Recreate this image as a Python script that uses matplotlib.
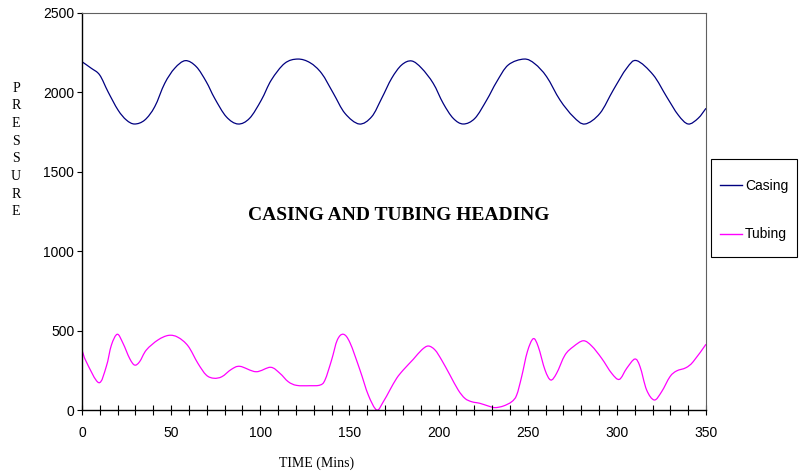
import numpy as np
import matplotlib
matplotlib.use("Agg")
import matplotlib.pyplot as plt
from matplotlib.path import Path
from matplotlib.patches import PathPatch, Rectangle
from matplotlib.lines import Line2D

# Casing pressure readings
casing_time = [0, 5.2, 9.9, 14.6, 20.2, 24.9, 29.5, 35.2, 40.8, 46.4, 52, 58,
               64.1, 69.7, 74.4, 80.9, 87.5, 94, 100.6, 106.2, 113.7, 121,
               127.9, 134.4, 141, 147.5, 155.5, 162.5, 168.1, 173.7, 179.3, 184.9,
               190.5, 197, 202.6, 208.2, 213.9, 220.4, 227, 232.6, 239.1, 248,
               254, 260.6, 268.1, 275.6, 282.1, 290.5, 298, 305.5, 311.1,
               320.4, 327.9, 334.4, 340, 345.6, 350]
casing_psi = [2193, 2152, 2110, 2004, 1889, 1826, 1801, 1826, 1910, 2057, 2152, 2200,
              2162, 2067, 1963, 1847, 1801, 1837, 1952, 2078, 2183, 2210,
              2187, 2120, 1994, 1868, 1801, 1847, 1963, 2089, 2173, 2198,
              2152, 2057, 1931, 1837, 1801, 1837, 1952, 2067, 2173, 2210,
              2180, 2099, 1952, 1847, 1801, 1868, 2015, 2152, 2200,
              2110, 1973, 1858, 1801, 1837, 1900]

# Tubing pressure readings
tubing_time = [0, 2.4, 9.4, 13.6, 16.5, 19.8, 23, 26.7, 29.5, 32.3, 36.1, 42.6,
               48.6, 53.8, 59.5, 65, 69.7, 74, 78.5, 83.8, 88.6, 97.6, 105.8,
               111, 115.7, 120.4, 127.9, 133.5, 136.3, 140, 143.2, 146.6, 150.3,
               155.9, 160.6, 165.3, 169, 172.7, 176.5, 180.2, 185.8, 190.5, 194.2,
               198, 201.7, 206.4, 211, 214.8, 218.6, 223.2, 227.9, 231.6, 236.3,
               241, 243.8, 246.6, 249.8, 253.1, 255.9, 259.7, 262.9, 266.2,
               270.9, 275.6, 281.2, 285.9, 291.5, 297.1, 301.4, 305.5, 310.1,
               313, 316.7, 321, 325.1, 329.8, 333.5, 338.7, 342.8, 350]
tubing_psi = [378, 304, 172, 273, 409, 477, 420, 325, 283, 304, 378, 441,
              470, 458, 403, 294, 220, 200, 210, 256, 275, 241, 269,
              231, 178, 155, 153, 157, 189, 315, 441, 477, 424,
              252, 94, 0, 52, 126, 200, 252, 319, 378, 403,
              378, 315, 220, 126, 73, 52, 42, 25, 15, 25,
              52, 94, 210, 367, 449, 399, 252, 189, 231,
              346, 399, 436, 403, 325, 231, 193, 262, 321,
              273, 126, 63, 115, 210, 246, 266, 304, 414]

series_names = ["Casing", "Tubing"]
series_colors = ["#000080", "#FF00FF"]

x_ticks = list(range(0, 351, 50))
y_ticks = list(range(0, 2501, 500))


def smooth_path(xs, ys):
    """Catmull-Rom curve through the points, as cubic Bezier segments."""
    p = np.column_stack([xs, ys]).astype(float)
    ext = np.vstack([p[0], p, p[-1]])
    verts = [p[0]]
    codes = [Path.MOVETO]
    for i in range(1, len(ext) - 2):
        p0, p1, p2, p3 = ext[i - 1], ext[i], ext[i + 1], ext[i + 2]
        c1 = p1 + (p2 - p0) / 6.0
        c2 = p2 - (p3 - p1) / 6.0
        verts += [c1, c2, p2]
        codes += [Path.CURVE4] * 3
    return Path(verts, codes)


fig = plt.figure(figsize=(8.02, 4.76), dpi=100)
ax = fig.add_axes([82 / 802, 1 - 410 / 476, 624 / 802, 397 / 476])

for (xs, ys), color in zip([(casing_time, casing_psi), (tubing_time, tubing_psi)],
                           series_colors):
    ax.add_patch(PathPatch(smooth_path(xs, ys), facecolor="none",
                           edgecolor=color, lw=0.9))

ax.set_xlim(0, 350)
ax.set_ylim(0, 2500)

ax.set_xticks(x_ticks)
ax.set_xticks(range(0, 351, 10), minor=True)
ax.set_yticks(y_ticks)
ax.tick_params(axis="x", which="both", direction="inout", length=6.5,
               width=0.8, labelsize=10, pad=8)
ax.tick_params(axis="y", direction="out", length=3.5, width=0.8,
               labelsize=10, pad=2)
for lab in ax.get_xticklabels() + ax.get_yticklabels():
    lab.set_family("Liberation Sans")

for side in ("left", "bottom"):
    ax.spines[side].set_color("black")
    ax.spines[side].set_linewidth(1.0)
for side in ("top", "right"):
    ax.spines[side].set_color("#606060")
    ax.spines[side].set_linewidth(0.8)

fig.text(399 / 802, 1 - 215 / 476, "CASING AND TUBING HEADING",
         ha="center", va="center", family="Liberation Serif",
         fontweight="bold", fontsize=14)

# Vertical stacked axis label
for i, ch in enumerate("PRESSURE"):
    fig.text(16 / 802, 1 - (88 + i * 17.7) / 476, ch, ha="center", va="center",
             family="Liberation Serif", fontsize=10)

fig.text(317 / 802, 1 - 463 / 476, "TIME (Mins)", ha="center", va="center",
         family="Liberation Serif", fontsize=10)

# Legend
fig.patches.append(Rectangle((711 / 802, 1 - 257 / 476), 86 / 802, 98 / 476,
                             transform=fig.transFigure, facecolor="white",
                             edgecolor="black", lw=0.8))
handles = [Line2D([], [], color=c, lw=1.0) for c in series_colors]
leg = fig.legend(handles, series_names, loc="center left",
                 bbox_to_anchor=(720 / 802, 1 - 210 / 476),
                 frameon=False, borderpad=0, borderaxespad=0,
                 handlelength=1.6, handletextpad=0.2, labelspacing=2.5,
                 prop={"family": "Liberation Sans", "size": 10})

fig.savefig("out.png", dpi=100, facecolor="white")
